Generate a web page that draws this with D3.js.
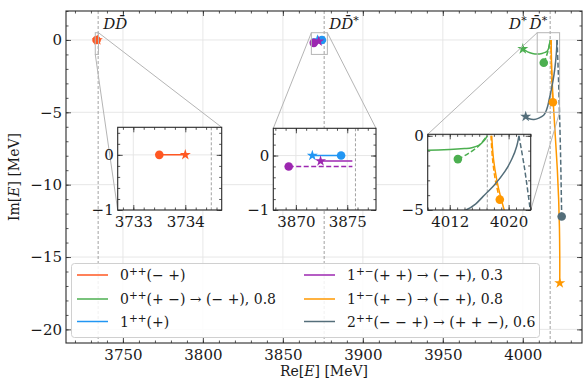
<!DOCTYPE html>
<html>
<head>
<meta charset="utf-8">
<script src="https://cdn.jsdelivr.net/npm/d3@7"></script>
<style>
  body { margin: 0; background: #fff; }
  text { font-family: "DejaVu Serif", serif; fill: #1a1a1a; }
</style>
</head>
<body>
<svg id="chart" width="587" height="382"></svg>
<script>
// ---- data ----
const seriesNames = ["red", "green", "blue", "purple", "orange", "slate"];
const seriesColors = ["#ff5722", "#4caf50", "#2196f3", "#9c27b0", "#ff9800", "#546e7a"];
const legendBase = ["0", "0", "1", "1", "1", "2"];
const legendSup = ["++", "++", "++", "+\u2212", "+\u2212", "++"];
const legendRest = ["(\u2212 +)", "(+ \u2212) \u2192 (\u2212 +), 0.8", "(+)",
                    "(+ +) \u2192 (\u2212 +), 0.3", "(+ \u2212) \u2192 (\u2212 +), 0.8",
                    "(\u2212 \u2212 +) \u2192 (+ + \u2212), 0.6"];

const redSolid = [[3733.5, 0], [3734.0, 0]];
const blueSolid = [[3871.6, 0], [3874.4, 0]];
const purpleSolid = [[3872.4, -0.1], [3875.5, -0.1]];
const purpleDashed = [[3869.3, -0.2], [3875.5, -0.2]];
const greenSolid = [[4000.0, -0.62], [4003, -0.82], [4006, -0.93], [4009, -0.97], [4012, -0.93],
                    [4014, -0.86], [4015, -0.8], [4016, -0.63], [4016.7, -0.3], [4017.1, 0]];
const greenDashed = [[4013.1, -1.57], [4014.5, -1.2], [4016, -0.65], [4017.0, -0.05]];
const orangeSolid = [[4017.7, 0], [4017.95, -1.6], [4018.4, -3.0], [4018.9, -4.1], [4019.4, -5],
                     [4020.5, -7], [4021.6, -9], [4022.4, -11], [4022.9, -13], [4023.1, -15], [4023.1, -16.8]];
const orangeDashed = [[4017.6, 0], [4017.8, -1.5], [4018.2, -3], [4018.8, -4.3]];
const slateSolid = [[4001.8, -5.3], [4004, -5.45], [4007, -5.5], [4010, -5.4], [4013, -5.2],
                    [4014.2, -5.0], [4015.5, -4.6], [4016.5, -4.1], [4018, -3.35], [4019.5, -2.4],
                    [4020.5, -1.5], [4021.1, -0.7], [4021.4, 0]];
const slateDashed = [[4021.4, 0], [4022.1, -2], [4022.7, -4.1], [4023.3, -6.5], [4023.8, -9], [4024.3, -12.2]];

const solidLines = [redSolid, greenSolid, blueSolid, purpleSolid, orangeSolid, slateSolid];
const dashedLines = [null, greenDashed, null, purpleDashed, orangeDashed, slateDashed];
const stars = [[3734.0, 0], [4000.0, -0.62], [3871.6, 0], [3872.4, -0.1], [4023.1, -16.8], [4001.8, -5.3]];
const circles = [[3733.5, 0], [4013.1, -1.57], [3874.4, 0], [3869.3, -0.2], [4018.8, -4.3], [4024.3, -12.2]];

const thresholds = [3734.5, 3875.8, 4017.1];

// main axes
const mainXDomain = [3714.4, 4037];
const mainYDomain = [-20.94, 2.0];
const mainXTicks = [3750, 3800, 3850, 3900, 3950, 4000];
const mainYTicks = [0, -5, -10, -15, -20];

// insets: domains, ticks, zoom box in main coords
const insetXDomains = [[3732.7, 3734.7], [3867.8, 3877.8], [4009, 4023]];
const insetYDomains = [[-1, 0.5], [-1, 0.5], [-5, 0.1]];
const insetXTicks = [[3733, 3734], [3870, 3875], [4012, 4020]];
const insetYTicks = [[0, -1], [0, -1], [0, -5]];
const insetXMinor = [0.2, 1, 1];
const insetYMinor = [0.2, 0.2, 1];
const zoomBoxY = [[-1, 0.5], [-1, 0.5], [-5, 0.5]];

// ---- layout ----
const svg = d3.select("#chart");
const main = {left: 66, right: 582, top: 11, bottom: 343};
const insetBoxes = [
  {left: 117.7, right: 221.7, top: 127.3, bottom: 210},
  {left: 273.3, right: 376, top: 128.3, bottom: 210},
  {left: 427.7, right: 530.7, top: 134.3, bottom: 210}
];
// connector lines: [x-side, y-side] of the box joined to the same corner of the inset
const connectors = [
  [["r", "t"], ["l", "b"]],
  [["l", "t"], ["r", "t"]],
  [["l", "t"], ["r", "b"]]
];

const frameColor = "#2a2a2a";
const gridColor = "#e4e4e4";
const fs = 15;
const fmt = d3.format("d");

function panel(g, x, y, xt, yt, xMinStep, yMinStep, clipId) {
  const [l, r] = x.range(), [b, t] = y.range();
  g.append("rect").attr("x", l).attr("y", t).attr("width", r - l).attr("height", b - t).attr("fill", "#fff");
  g.append("defs").append("clipPath").attr("id", clipId)
    .append("rect").attr("x", l).attr("y", t).attr("width", r - l).attr("height", b - t);
  const grid = g.append("g").attr("stroke", gridColor).attr("stroke-width", 0.9);
  grid.selectAll(".gx").data(xt).join("line")
    .attr("x1", d => x(d)).attr("x2", d => x(d)).attr("y1", t).attr("y2", b);
  grid.selectAll(".gy").data(yt).join("line")
    .attr("y1", d => y(d)).attr("y2", d => y(d)).attr("x1", l).attr("x2", r);

  const xd = x.domain(), yd = y.domain();
  const xMinor = d3.range(Math.ceil(xd[0] / xMinStep - 1e-9) * xMinStep, xd[1] + 1e-9, xMinStep);
  const yMinor = d3.range(Math.ceil(yd[0] / yMinStep - 1e-9) * yMinStep, yd[1] + 1e-9, yMinStep);

  const axes = g.append("g").attr("class", "axes");
  const add = (axis, tx, ty, labels) => {
    const a = axes.append("g").attr("transform", `translate(${tx},${ty})`).call(axis);
    a.select(".domain").remove();
    a.selectAll("line").attr("stroke", frameColor).attr("stroke-width", 0.8);
    a.selectAll("text").style("font-size", fs + "px").attr("fill", "#1a1a1a");
    if (!labels) a.selectAll("text").remove();
    return a;
  };
  add(d3.axisBottom(x).tickValues(xt).tickFormat(fmt).tickSize(-5).tickPadding(6), 0, b, true);
  add(d3.axisTop(x).tickValues(xt).tickSize(-5), 0, t, false);
  add(d3.axisLeft(y).tickValues(yt).tickFormat(fmt).tickSize(-5).tickPadding(4), l, 0, true);
  add(d3.axisRight(y).tickValues(yt).tickSize(-5), r, 0, false);
  add(d3.axisBottom(x).tickValues(xMinor).tickSize(-2.5), 0, b, false);
  add(d3.axisTop(x).tickValues(xMinor).tickSize(-2.5), 0, t, false);
  add(d3.axisLeft(y).tickValues(yMinor).tickSize(-2.5), l, 0, false);
  add(d3.axisRight(y).tickValues(yMinor).tickSize(-2.5), r, 0, false);
  return axes;
}

function frame(g, x, y) {
  const [l, r] = x.range(), [b, t] = y.range();
  g.append("rect").attr("x", l).attr("y", t).attr("width", r - l).attr("height", b - t)
    .attr("fill", "none").attr("stroke", frameColor).attr("stroke-width", 1.1);
}

function thresholdLines(g, x, y, clipId) {
  const [b, t] = y.range();
  g.append("g").attr("clip-path", `url(#${clipId})`).selectAll("line").data(thresholds).join("line")
    .attr("x1", d => x(d)).attr("x2", d => x(d)).attr("y1", t).attr("y2", b)
    .attr("stroke", "#8a8a8a").attr("stroke-width", 0.8).attr("stroke-dasharray", "3,2");
}

function trajectories(g, x, y, clipId) {
  const line = d3.line().x(d => x(d[0])).y(d => y(d[1])).curve(d3.curveCatmullRom.alpha(0.5));
  const data = g.append("g").attr("clip-path", `url(#${clipId})`);
  seriesNames.forEach((n, i) => {
    if (dashedLines[i]) {
      data.append("path").attr("d", line(dashedLines[i])).attr("fill", "none")
        .attr("stroke", seriesColors[i]).attr("stroke-width", 1.5).attr("stroke-dasharray", "5,2.5");
    }
    data.append("path").attr("d", line(solidLines[i])).attr("fill", "none")
      .attr("stroke", seriesColors[i]).attr("stroke-width", 1.5);
  });
  seriesNames.forEach((n, i) => {
    data.append("path").attr("d", d3.symbol(d3.symbolStar, 38)())
      .attr("transform", `translate(${x(stars[i][0])},${y(stars[i][1])})`)
      .attr("fill", seriesColors[i]);
    data.append("circle").attr("cx", x(circles[i][0])).attr("cy", y(circles[i][1]))
      .attr("r", 4.3).attr("fill", seriesColors[i]);
  });
}

// ---- main panel ----
const x = d3.scaleLinear().domain(mainXDomain).range([main.left, main.right]);
const y = d3.scaleLinear().domain(mainYDomain).range([main.bottom, main.top]);
const gMain = svg.append("g");
panel(gMain, x, y, mainXTicks, mainYTicks, 10, 1, "clipMain");
thresholdLines(gMain, x, y, "clipMain");
trajectories(gMain, x, y, "clipMain");
frame(gMain, x, y);

// threshold labels (D, D-bar, superscript star)
const thrText = [
  {parts: [["D", 0], ["D\u0304", 0]], anchor: "start", dx: 5},
  {parts: [["D", 0], ["D\u0304", 0], ["*", 1]], anchor: "start", dx: 5},
  {parts: [["D", 0], ["*", 1], ["\u2009D\u0304", 0], ["*", 1]], anchor: "end", dx: -3}
];
thrText.forEach((tl, i) => {
  const t = gMain.append("text").attr("x", x(thresholds[i]) + tl.dx).attr("y", 29)
    .attr("text-anchor", tl.anchor).style("font-size", "15px").style("font-style", "italic");
  tl.parts.forEach((p, k) => {
    const s = t.append("tspan").text(p[0]);
    if (p[1]) s.attr("dy", -5).style("font-size", "11px").style("font-style", "normal");
    else if (k > 0 && tl.parts[k - 1][1]) s.attr("dy", 5);
  });
});

// axis labels
svg.append("text").attr("x", (main.left + main.right) / 2).attr("y", 376).attr("text-anchor", "middle")
  .style("font-size", "14px")
  .call(t => { t.append("tspan").text("Re["); t.append("tspan").text("E").style("font-style", "italic"); t.append("tspan").text("] [MeV]"); });
svg.append("text").attr("transform", `translate(19,${(main.top + main.bottom) / 2}) rotate(-90)`)
  .attr("text-anchor", "middle").style("font-size", "14px")
  .call(t => { t.append("tspan").text("Im["); t.append("tspan").text("E").style("font-style", "italic"); t.append("tspan").text("] [MeV]"); });

// ---- zoom boxes and connectors ----
const gz = svg.append("g").attr("stroke", "#b5b5b5").attr("stroke-width", 1).attr("fill", "none");
insetBoxes.forEach((ib, i) => {
  const bx = {l: x(insetXDomains[i][0]), r: x(insetXDomains[i][1]), b: y(zoomBoxY[i][0]), t: y(zoomBoxY[i][1])};
  gz.append("rect").attr("x", bx.l).attr("y", bx.t).attr("width", bx.r - bx.l).attr("height", bx.b - bx.t);
  const ins = {l: ib.left, r: ib.right, t: ib.top, b: ib.bottom};
  connectors[i].forEach(c => {
    gz.append("line").attr("x1", bx[c[0]]).attr("y1", bx[c[1]]).attr("x2", ins[c[0]]).attr("y2", ins[c[1]]);
  });
});

// ---- insets ----
insetBoxes.forEach((ib, i) => {
  const xi = d3.scaleLinear().domain(insetXDomains[i]).range([ib.left, ib.right]);
  const yi = d3.scaleLinear().domain(insetYDomains[i]).range([ib.bottom, ib.top]);
  const g = svg.append("g");
  panel(g, xi, yi, insetXTicks[i], insetYTicks[i], insetXMinor[i], insetYMinor[i], "clipInset" + i);
  thresholdLines(g, xi, yi, "clipInset" + i);
  trajectories(g, xi, yi, "clipInset" + i);
  frame(g, xi, yi);
});

// ---- legend ----
const lg = svg.append("g");
lg.append("rect").attr("x", 71.5).attr("y", 263.5).attr("width", 468).attr("height", 74).attr("rx", 3)
  .attr("fill", "#fff").attr("fill-opacity", 0.85).attr("stroke", "#d0d0d0").attr("stroke-width", 1);
const colX = [77, 304];
const rowY = [275, 299, 321.5];
seriesNames.forEach((n, i) => {
  const cx = colX[Math.floor(i / 3)], cy = rowY[i % 3];
  lg.append("line").attr("x1", cx).attr("x2", cx + 31).attr("y1", cy).attr("y2", cy)
    .attr("stroke", seriesColors[i]).attr("stroke-width", 1.5);
  const t = lg.append("text").attr("x", cx + 43).attr("y", cy + 5).style("font-size", "14px");
  t.append("tspan").text(legendBase[i]);
  t.append("tspan").text(legendSup[i]).attr("dy", -5).style("font-size", "10.5px");
  t.append("tspan").text(legendRest[i]).attr("dy", 5);
});
</script>
</body>
</html>
